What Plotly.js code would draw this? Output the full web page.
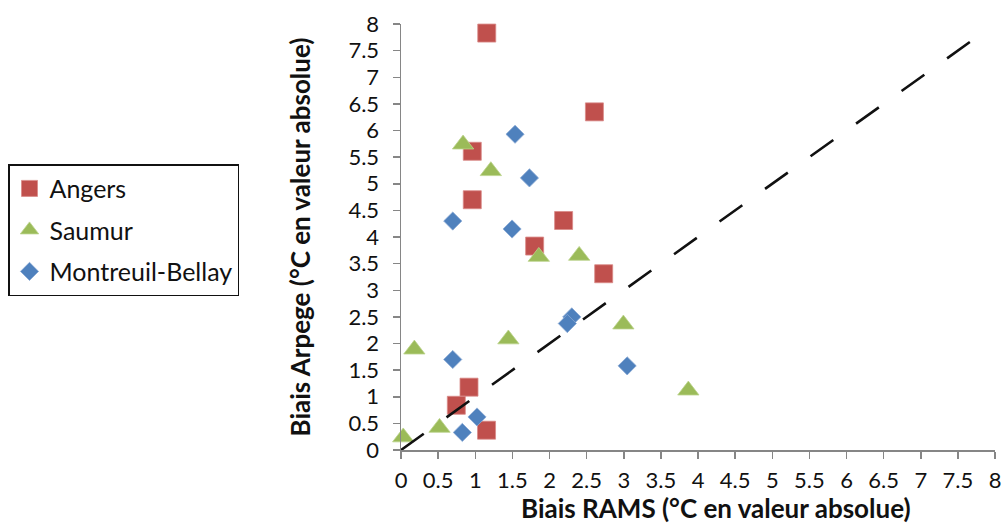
<!DOCTYPE html>
<html>
<head>
<meta charset="utf-8">
<script src="https://cdn.plot.ly/plotly-3.0.1.min.js"></script>
<style>
  html, body { margin: 0; padding: 0; background: #ffffff; }
  #chart { width: 1003px; height: 524px; }
</style>
</head>
<body>
<div id="chart"></div>
<script>
// Series names
const seriesNames = ["Angers", "Saumur", "Montreuil-Bellay"];

// Angers (red squares)
const angersX = [1.155, 2.605, 0.96, 0.96, 2.19, 1.80, 2.73, 0.916, 0.745, 1.152];
const angersY = [7.83, 6.35, 5.61, 4.70, 4.31, 3.83, 3.31, 1.18, 0.84, 0.372];

// Saumur (green triangles)
const saumurX = [0.836, 1.21, 1.856, 2.40, 2.995, 0.18, 1.446, 3.87, 0.519, 0.03];
const saumurY = [5.74, 5.24, 3.63, 3.65, 2.36, 1.89, 2.08, 1.12, 0.42, 0.24];

// Montreuil-Bellay (blue diamonds)
const montreuilX = [1.536, 1.73, 0.697, 1.496, 2.30, 2.24, 0.697, 3.046, 1.024, 0.826];
const montreuilY = [5.93, 5.11, 4.30, 4.15, 2.50, 2.375, 1.70, 1.58, 0.62, 0.33];

// Reference line y = x (dashed)
const refLineX = [0, 7.72];
const refLineY = [0, 7.72];

// Axis ticks
const tickVals = [0, 0.5, 1, 1.5, 2, 2.5, 3, 3.5, 4, 4.5, 5, 5.5, 6, 6.5, 7, 7.5, 8];
const tickText = ["0", "0.5", "1", "1.5", "2", "2.5", "3", "3.5", "4", "4.5", "5", "5.5", "6", "6.5", "7", "7.5", "8"];

const xTitle = "Biais RAMS (°C en valeur absolue)";
const yTitle = "Biais Arpege (°C en valeur absolue)";

const FONT = "Lato, 'Open Sans', sans-serif";
const AXIS_GRAY = "#868686";

const traces = [
  {
    x: angersX, y: angersY, name: seriesNames[0], type: "scatter", mode: "markers",
    legendgroup: "g1", cliponaxis: false,
    marker: { symbol: "square", size: 18, color: "#C0504D", line: { width: 0.8, color: "#D98A88" } }
  },
  {
    x: saumurX, y: saumurY, name: seriesNames[1], type: "scatter", mode: "markers",
    legendgroup: "g2", cliponaxis: false,
    marker: { symbol: "triangle-up", size: 18.5, color: "#9BBB59", line: { width: 0.8, color: "#BBD38C" } }
  },
  {
    x: montreuilX, y: montreuilY, name: seriesNames[2], type: "scatter", mode: "markers",
    legendgroup: "g3", cliponaxis: false,
    marker: { symbol: "diamond", size: 14, color: "#4F81BD", line: { width: 0.8, color: "#8AA9D4" } }
  },
  {
    x: refLineX, y: refLineY, type: "scatter", mode: "lines", showlegend: false, hoverinfo: "skip",
    line: { color: "#111111", width: 2.6, dash: "28px,28px" }
  }
];

const axisCommon = {
  range: [0, 8],
  tickmode: "array",
  tickvals: tickVals,
  ticktext: tickText,
  showgrid: false,
  zeroline: false,
  showline: true,
  linecolor: AXIS_GRAY,
  linewidth: 1.5,
  ticks: "outside",
  ticklen: 7,
  tickwidth: 1.5,
  tickcolor: AXIS_GRAY,
  tickfont: { family: FONT, size: 22, color: "#111111" },
  fixedrange: true
};

const layout = {
  width: 1003,
  height: 524,
  margin: { l: 401, r: 8, t: 24, b: 74, pad: 0 },
  paper_bgcolor: "#ffffff",
  plot_bgcolor: "#ffffff",
  font: { family: FONT, color: "#111111" },
  showlegend: true,
  xaxis: Object.assign({}, axisCommon, { title: { text: "" }, ticklabelstandoff: 3 }),
  yaxis: Object.assign({}, axisCommon, {
    ticklabelstandoff: 9,
    title: { text: yTitle, font: { family: FONT, size: 26, weight: "bold", color: "#111111" }, standoff: 30 }
  }),
  annotations: [
    {
      text: xTitle,
      xref: "paper", yref: "paper",
      x: 0.5303, y: 0, xanchor: "center", yanchor: "middle",
      yshift: -58, showarrow: false,
      font: { family: FONT, size: 26, weight: "bold", color: "#111111" }
    }
  ],
  legend: {
    x: -0.6616, xanchor: "left",
    y: 0.671, yanchor: "top",
    bgcolor: "#ffffff",
    bordercolor: "#111111",
    borderwidth: 1.5,
    font: { family: FONT, size: 25, color: "#111111" },
    traceorder: "grouped",
    tracegroupgap: 6
  }
};

Plotly.newPlot("chart", traces, layout, { displayModeBar: false, staticPlot: true });
</script>
</body>
</html>
